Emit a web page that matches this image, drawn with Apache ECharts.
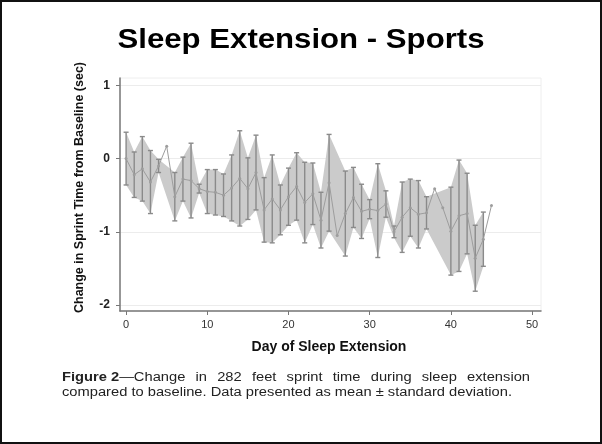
<!DOCTYPE html>
<html>
<head>
<meta charset="utf-8">
<script src="https://cdn.jsdelivr.net/npm/echarts@6/dist/echarts.min.js"></script>
<style>
  html, body { margin: 0; padding: 0; background: #fff; }
  #chart { width: 602px; height: 444px; }
</style>
</head>
<body>
<div id="chart"></div>
<script>
// Day of sleep extension
const days = [0, 1, 2, 3, 4, 5, 6, 7, 8, 9, 10, 11, 12, 13, 14, 15, 16, 17, 18, 19, 20, 21, 22,
  23, 24, 25, 26, 27, 28, 29, 30, 31, 32, 33, 34, 35, 36, 37, 38, 39, 40, 41, 42, 43, 44, 45];
// Mean change in sprint time from baseline (sec)
const meanChange = [0.00, -0.22, -0.14, -0.32, -0.10, 0.17, -0.52, -0.28, -0.30, -0.41,
  -0.45, -0.46, -0.50, -0.40, -0.27, -0.41, -0.19, -0.70, -0.55, -0.70,
  -0.52, -0.38, -0.60, -0.48, -0.84, -0.33, -1.05, -0.75, -0.53, -0.72,
  -0.69, -0.71, -0.62, -1.00, -0.80, -0.67, -0.76, -0.74, -0.41, -0.67,
  -0.99, -0.78, -0.75, -1.36, -1.10, -0.64];
// Standard deviation (null where only one measurement exists)
const sdChange = [0.36, 0.31, 0.44, 0.43, 0.09, null, 0.33, 0.30, 0.51, 0.06,
  0.30, 0.31, 0.29, 0.45, 0.65, 0.42, 0.51, 0.44, 0.60, 0.34,
  0.39, 0.46, 0.55, 0.42, 0.38, 0.66, null, 0.58, 0.41, 0.37,
  0.13, 0.64, 0.18, 0.08, 0.48, 0.39, 0.46, 0.22, null, null,
  0.60, 0.76, 0.55, 0.45, 0.37, null];
const xTicks = [0, 10, 20, 30, 40, 50];
const yTicks = [-2, -1, 0, 1];

const FONT = '"Liberation Sans", Arial, sans-serif';

// rows [day, mean - sd, mean + sd] for the days that have a spread
const bandRows = [];
days.forEach((d, i) => {
  if (sdChange[i] != null) bandRows.push([d, meanChange[i] - sdChange[i], meanChange[i] + sdChange[i]]);
});
const meanRows = days.map((d, i) => [d, meanChange[i]]);

const measureCtx = document.createElement('canvas').getContext('2d');
function textWidth(str, size, weight) {
  measureCtx.font = (weight || 'normal') + ' ' + size + 'px ' + FONT;
  return measureCtx.measureText(str).width;
}

// caption: both lines share one horizontal stretch, first line justified
const capLeft = 62, capRight = 530, capSize = 12.5, capColor = '#222';
const line2 = 'compared to baseline. Data presented as mean \u00b1 standard deviation.';
const capScale = (512 - capLeft) / textWidth(line2, capSize);
const capWords = ['in', '282', 'feet', 'sprint', 'time', 'during', 'sleep', 'extension'];
const leadBold = 'Figure 2', leadRest = '\u2014Change';
const leadW = (textWidth(leadBold, capSize, 'bold') + textWidth(leadRest, capSize)) * capScale;
const wordW = capWords.map(w => textWidth(w, capSize) * capScale);
const gap = (capRight - capLeft - leadW - wordW.reduce((a, b) => a + b, 0)) / capWords.length;
const captionEls = [{
  type: 'text', x: capLeft, y: 378, scaleX: capScale,
  style: {
    text: '{b|' + leadBold + '}' + leadRest, fontSize: capSize, fontFamily: FONT, fill: capColor,
    verticalAlign: 'middle', rich: { b: { fontWeight: 'bold', fontSize: capSize, fontFamily: FONT, fill: capColor } }
  }
}];
let cx = capLeft + leadW + gap;
capWords.forEach((w, k) => {
  captionEls.push({ type: 'text', x: cx, y: 378, scaleX: capScale,
    style: { text: w, fontSize: capSize, fontFamily: FONT, fill: capColor, verticalAlign: 'middle' } });
  cx += wordW[k] + gap;
});
captionEls.push({ type: 'text', x: capLeft, y: 393, scaleX: capScale,
  style: { text: line2, fontSize: capSize, fontFamily: FONT, fill: capColor, verticalAlign: 'middle' } });

// chart heading, stretched to its width
const heading = 'Sleep Extension - Sports';
const headingSize = 28;
const headingScale = 367 / textWidth(heading, headingSize, 'bold');

// y axis title, squeezed along its length
const yTitle = 'Change in Sprint Time from Baseline (sec)';
const yTitleSize = 13.5;
const yTitleW = textWidth(yTitle, yTitleSize, 'bold');

const chart = echarts.init(document.getElementById('chart'), null, { renderer: 'canvas' });
chart.setOption({
  animation: false,
  backgroundColor: '#fff',
  grid: {
    left: 120, right: 61, top: 78, bottom: 133, show: true,
    borderColor: '#eeeeee', borderWidth: 1, backgroundColor: 'transparent'
  },
  xAxis: {
    type: 'value', min: -0.75, max: 51.1,
    axisLine: { show: true, onZero: false, lineStyle: { color: '#777', width: 1.5 } },
    axisTick: { show: true, customValues: xTicks, length: 4, lineStyle: { color: '#777' } },
    axisLabel: { customValues: xTicks, fontFamily: FONT, fontSize: 11, color: '#333', margin: 8 },
    splitLine: { show: false }
  },
  yAxis: {
    type: 'value', min: -2.08, max: 1.1,
    axisLine: { show: true, onZero: false, lineStyle: { color: '#777', width: 1.5 } },
    axisTick: { show: true, customValues: yTicks, length: 4, lineStyle: { color: '#777' } },
    axisLabel: { customValues: yTicks, fontFamily: FONT, fontSize: 12, fontWeight: 'bold', color: '#222', margin: 10 },
    splitLine: { show: true, lineStyle: { color: '#ececec', width: 1 } }
  },
  graphic: [
    { type: 'rect', shape: { x: 1, y: 1, width: 600, height: 442 },
      style: { fill: null, stroke: '#111', lineWidth: 2 }, silent: true },
    { type: 'text', x: 301, y: 40, scaleX: headingScale,
      style: { text: heading, fontSize: headingSize, fontWeight: 'bold', fontFamily: FONT, fill: '#000',
        align: 'center', verticalAlign: 'middle' } },
    { type: 'text', x: 79, y: 187.5, rotation: Math.PI / 2, scaleX: 251 / yTitleW,
      style: { text: yTitle, fontSize: yTitleSize, fontWeight: 'bold', fontFamily: FONT, fill: '#111',
        align: 'center', verticalAlign: 'middle' } },
    { type: 'text', x: 329, y: 347,
      style: { text: 'Day of Sleep Extension', fontSize: 14, fontWeight: 'bold', fontFamily: FONT, fill: '#111',
        align: 'center', verticalAlign: 'middle' } }
  ].concat(captionEls),
  series: [
    {
      // shaded mean ± sd band
      type: 'custom', coordinateSystem: 'cartesian2d', data: bandRows,
      encode: { x: 0, y: [1, 2] }, z: 1,
      renderItem(params, api) {
        if (params.dataIndex !== 0) return null;
        const upper = bandRows.map(r => api.coord([r[0], r[2]]));
        const lower = bandRows.map(r => api.coord([r[0], r[1]])).reverse();
        return { type: 'polygon', shape: { points: upper.concat(lower) }, style: { fill: '#cbcbcb' } };
      }
    },
    {
      // capped error bars
      type: 'custom', coordinateSystem: 'cartesian2d', data: bandRows,
      encode: { x: 0, y: [1, 2] }, z: 2,
      renderItem(params, api) {
        const x = api.value(0);
        const lo = api.coord([x, api.value(1)]);
        const hi = api.coord([x, api.value(2)]);
        const w = 2.5;
        const st = { stroke: '#8a8a8a', lineWidth: 1.4 };
        return { type: 'group', children: [
          { type: 'line', shape: { x1: lo[0], y1: lo[1], x2: hi[0], y2: hi[1] }, style: st },
          { type: 'line', shape: { x1: lo[0] - w, y1: lo[1], x2: lo[0] + w, y2: lo[1] }, style: st },
          { type: 'line', shape: { x1: hi[0] - w, y1: hi[1], x2: hi[0] + w, y2: hi[1] }, style: st }
        ] };
      }
    },
    {
      // daily mean
      type: 'line', data: meanRows, z: 3,
      symbol: 'circle', symbolSize: 3, showSymbol: true,
      lineStyle: { color: '#9d9d9d', width: 1 },
      itemStyle: { color: '#9d9d9d' }
    }
  ]
});
</script>
</body>
</html>
